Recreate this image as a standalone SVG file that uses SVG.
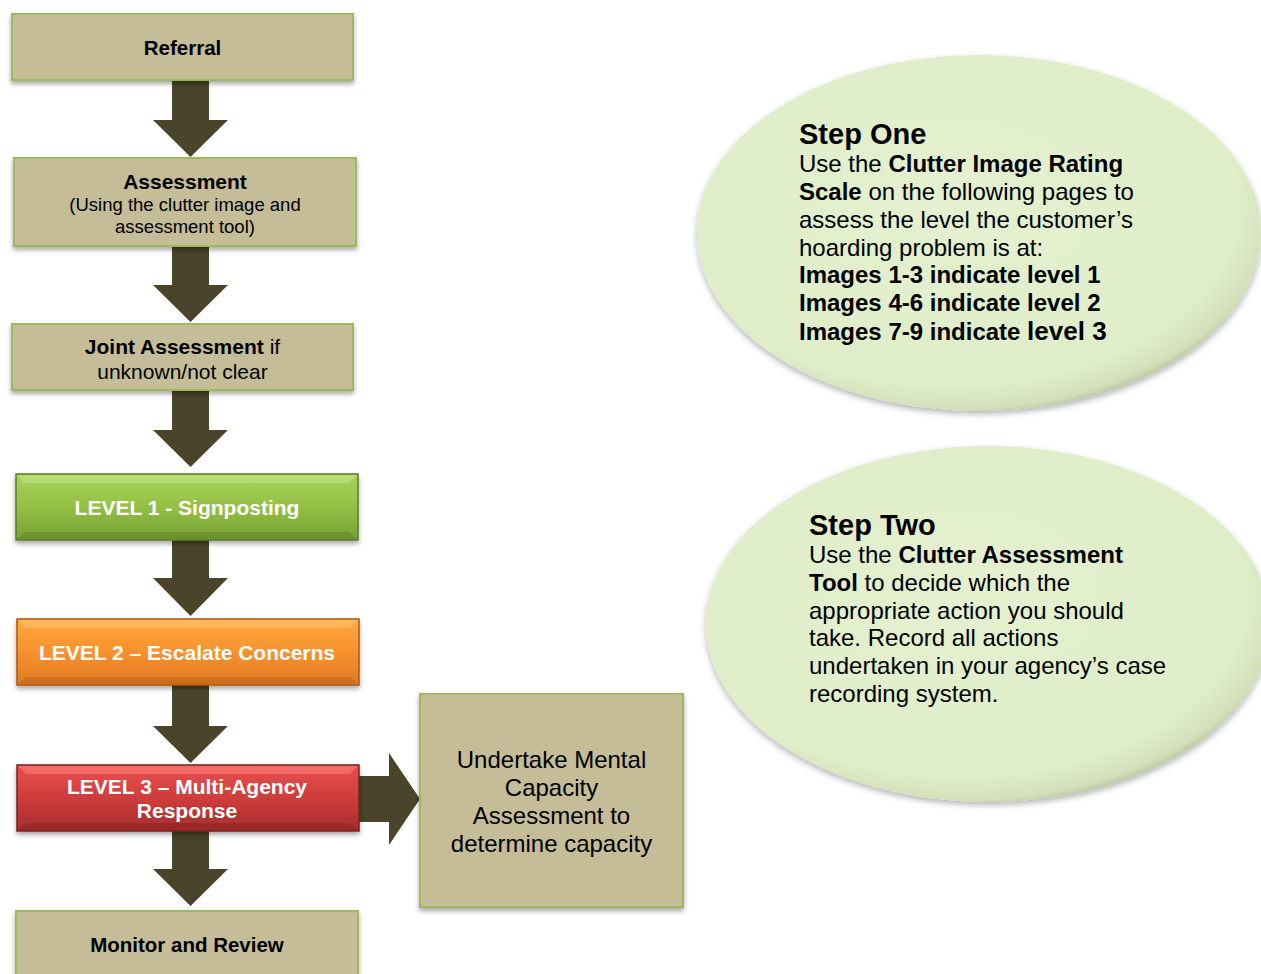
<svg xmlns="http://www.w3.org/2000/svg" width="1261" height="974" viewBox="0 0 1261 974">
<defs>
<style>
.box{fill:#C4BD97;stroke:#9BBB59;stroke-width:2}
.arr{fill:#4A442A}
.t{font-family:"Liberation Sans",Arial,sans-serif;fill:#000}
.b{font-weight:bold}
.w{font-family:"Liberation Sans",Arial,sans-serif;font-weight:bold;fill:#fff;font-size:21px}
.et{font-family:"Liberation Sans",Arial,sans-serif;font-size:24px;fill:#000}
.hd{font-size:29px;font-weight:bold}
</style>
<filter id="sh" x="-10%" y="-10%" width="120%" height="130%">
<feDropShadow dx="0" dy="3" stdDeviation="2.5" flood-color="#000" flood-opacity="0.35"/>
</filter>
<filter id="esh" x="-10%" y="-10%" width="120%" height="125%">
<feDropShadow dx="0" dy="3" stdDeviation="3" flood-color="#000" flood-opacity="0.3"/>
</filter>
<linearGradient id="g1" x1="0" y1="0" x2="0" y2="1">
<stop offset="0" stop-color="#A9D35A"/><stop offset="0.5" stop-color="#93C044"/><stop offset="1" stop-color="#77A033"/>
</linearGradient>
<linearGradient id="g2" x1="0" y1="0" x2="0" y2="1">
<stop offset="0" stop-color="#FFA83C"/><stop offset="0.5" stop-color="#F7912E"/><stop offset="1" stop-color="#E07A22"/>
</linearGradient>
<linearGradient id="g3" x1="0" y1="0" x2="0" y2="1">
<stop offset="0" stop-color="#E8504E"/><stop offset="0.5" stop-color="#CF3D3C"/><stop offset="1" stop-color="#A52C2C"/>
</linearGradient>
<radialGradient id="eg" cx="0.45" cy="0.42" r="0.6">
<stop offset="0" stop-color="#E4F0CF"/><stop offset="0.85" stop-color="#E0EDC9"/><stop offset="0.96" stop-color="#D2DFB9"/><stop offset="1" stop-color="#B5C29E"/>
</radialGradient>
</defs>

<g id="connectors">
<polygon class="arr" points="172,80 209,80 209,120 228,120 190.5,157 153,120 172,120"/>
<polygon class="arr" points="172,246 209,246 209,285 228,285 190.5,322 153,285 172,285"/>
<polygon class="arr" points="172,390 209,390 209,430 228,430 190.5,467 153,430 172,430"/>
<polygon class="arr" points="172,540 209,540 209,578 228,578 190.5,616 153,578 172,578"/>
<polygon class="arr" points="172,685 209,685 209,726 228,726 190.5,763 153,726 172,726"/>
<polygon class="arr" points="172,831 209,831 209,869 228,869 190.5,906 153,869 172,869"/>
<polygon class="arr" points="359,776 389,776 389,753 420,799 389,845 389,822 359,822"/>
</g>

<g id="referral">
<rect class="box" x="12" y="14" width="341" height="66" filter="url(#sh)"/>
<text class="t b" x="182.5" y="55" font-size="20.5" text-anchor="middle">Referral</text>
</g>

<g id="assessment">
<rect class="box" x="14" y="158" width="342" height="88" filter="url(#sh)"/>
<text class="t b" x="185" y="189" font-size="21" text-anchor="middle">Assessment</text>
<text class="t" x="185" y="211" font-size="18.5" text-anchor="middle">(Using the clutter image and</text>
<text class="t" x="185" y="233" font-size="18.5" text-anchor="middle">assessment tool)</text>
</g>

<g id="joint">
<rect class="box" x="12" y="324" width="341" height="66" filter="url(#sh)"/>
<text class="t" x="182.5" y="354" font-size="21" text-anchor="middle"><tspan font-weight="bold">Joint Assessment</tspan> if</text>
<text class="t" x="182.5" y="379" font-size="21" text-anchor="middle">unknown/not clear</text>
</g>

<g id="level1">
<rect x="16" y="474" width="342" height="66" fill="url(#g1)" stroke="#5E7A2C" stroke-width="1.5" filter="url(#sh)"/>
<polygon points="17,475 357,475 349,483 25,483" fill="#C3E38A" opacity="0.6"/>
<polygon points="17,539 357,539 349,532 25,532" fill="#5E8227" opacity="0.5"/>
<text class="w" x="187" y="515" text-anchor="middle">LEVEL 1 - Signposting</text>
</g>

<g id="level2">
<rect x="17" y="619" width="342" height="66" fill="url(#g2)" stroke="#A85A12" stroke-width="1.5" filter="url(#sh)"/>
<polygon points="18,620 358,620 350,628 26,628" fill="#FFC270" opacity="0.6"/>
<polygon points="18,684 358,684 350,677 26,677" fill="#B95F15" opacity="0.5"/>
<text class="w" x="187" y="660" text-anchor="middle">LEVEL 2 – Escalate Concerns</text>
</g>

<g id="level3">
<rect x="17" y="765" width="342" height="66" fill="url(#g3)" stroke="#7A2222" stroke-width="1.5" filter="url(#sh)"/>
<polygon points="18,766 358,766 350,774 26,774" fill="#FF7B78" opacity="0.6"/>
<polygon points="18,830 358,830 350,823 26,823" fill="#8A2222" opacity="0.5"/>
<text class="w" x="187" y="794" text-anchor="middle">LEVEL 3 – Multi-Agency</text>
<text class="w" x="187" y="818" text-anchor="middle">Response</text>
</g>

<g id="monitor">
<rect class="box" x="16" y="911" width="342" height="80" filter="url(#sh)"/>
<text class="t b" x="187" y="952" font-size="20.5" text-anchor="middle">Monitor and Review</text>
</g>

<g id="mental">
<rect class="box" x="420" y="694" width="263" height="213" filter="url(#sh)"/>
<text class="t" x="551.5" y="768" font-size="24" text-anchor="middle">Undertake Mental</text>
<text class="t" x="551.5" y="796" font-size="24" text-anchor="middle">Capacity</text>
<text class="t" x="551.5" y="824" font-size="24" text-anchor="middle">Assessment to</text>
<text class="t" x="551.5" y="852" font-size="24" text-anchor="middle">determine capacity</text>
</g>

<g id="step-one">
<ellipse cx="979" cy="233" rx="282" ry="178" fill="url(#eg)" filter="url(#esh)"/>
<text class="et hd" x="799" y="144">Step One</text>
<text class="et" x="799" y="172">Use the <tspan font-weight="bold">Clutter Image Rating</tspan></text>
<text class="et" x="799" y="200"><tspan font-weight="bold">Scale</tspan> on the following pages to</text>
<text class="et" x="799" y="228">assess the level the customer’s</text>
<text class="et" x="799" y="256">hoarding problem is at:</text>
<text class="et b" x="799" y="283">Images 1-3 indicate level 1</text>
<text class="et b" x="799" y="311">Images 4-6 indicate level 2</text>
<text class="et b" x="799" y="340">Images 7-9 indicate <tspan font-size="26">level 3</tspan></text>
</g>

<g id="step-two">
<ellipse cx="988" cy="624" rx="282" ry="178" fill="url(#eg)" filter="url(#esh)"/>
<text class="et hd" x="809" y="535">Step Two</text>
<text class="et" x="809" y="563">Use the <tspan font-weight="bold">Clutter Assessment</tspan></text>
<text class="et" x="809" y="591"><tspan font-weight="bold">Tool</tspan> to decide which the</text>
<text class="et" x="809" y="619">appropriate action you should</text>
<text class="et" x="809" y="646">take. Record all actions</text>
<text class="et" x="809" y="674">undertaken in your agency’s case</text>
<text class="et" x="809" y="702">recording system.</text>
</g>
</svg>
